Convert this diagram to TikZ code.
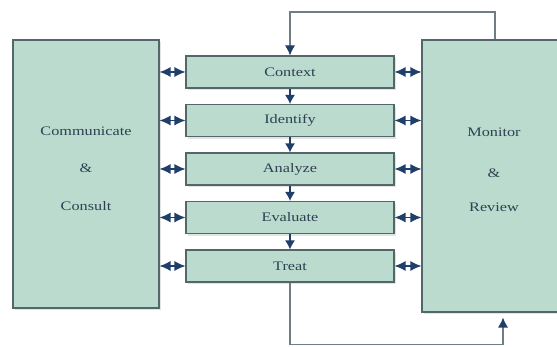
\documentclass[tikz,border=0pt]{standalone}
\usepackage{fontspec}
\setmainfont{Liberation Serif}
\newfontfamily\wfont[FakeStretch=1.25]{Liberation Serif}
\usetikzlibrary{arrows.meta,shadows}
\definecolor{boxfill}{HTML}{BADBCD}
\definecolor{boxline}{HTML}{53676B}
\definecolor{arrnavy}{HTML}{1F3F6B}
\definecolor{txtcol}{HTML}{2F4052}
\definecolor{flowline}{HTML}{6E7E84}
\begin{document}
\begin{tikzpicture}[x=1pt,y=1pt,
  box/.style={draw=boxline, line width=1.1pt, fill=boxfill, inner sep=0pt,
    drop shadow={shadow xshift=1.5pt, shadow yshift=-2.5pt, opacity=0.22, fill=gray}},
  stepbox/.style={box, minimum width=208pt, minimum height=32pt,
    font=\wfont\fontsize{13}{15}\selectfont, text=txtcol},
  lbl/.style={font=\wfont\fontsize{13}{15}\selectfont, text=txtcol, inner sep=0pt},
  dbl/.style={{Latex[length=11pt,width=10pt]}-{Latex[length=11pt,width=10pt]}, color=arrnavy, line width=1.2pt},
  downarr/.style={-{Latex[length=9pt,width=10pt]}, color=arrnavy, line width=1.2pt},
  loopline/.style={draw=flowline, line width=1.1pt, -{Latex[length=10pt,width=10pt,color=arrnavy]}}
]
\useasboundingbox (0,0) rectangle (557,347);
\clip (0,0) rectangle (557,347);
\fill[white] (0,0) rectangle (557,347);

% big side boxes
\node[box, minimum width=146pt, minimum height=268pt] (L) at (86,173) {};
\node[box, minimum width=140pt, minimum height=272pt] (R) at (492,171) {};

% step boxes
\node[stepbox] (ctx) at (290,275) {Context};
\node[stepbox] (idf) at (290,226.5) {Identify};
\node[stepbox] (ana) at (290,178) {Analyze};
\node[stepbox] (eva) at (290,129.5) {Evaluate};
\node[stepbox] (trt) at (290,81) {Treat};

% side labels
\node[lbl] (l1) at (86,216) {Communicate};
\node[lbl] (l2) at (86,179) {\&};
\node[lbl] (l3) at (86,141) {Consult};
\node[lbl] (r1) at (494,215) {Monitor};
\node[lbl] (r2) at (494,174) {\&};
\node[lbl] (r3) at (494,140) {Review};

% double arrows
\foreach \n in {ctx,idf,ana,eva,trt}{
  \draw[dbl] (L.east |- \n.west) -- (\n.west);
  \draw[dbl] (\n.east) -- (R.west |- \n.east);
}

% down arrows
\draw[downarr] (ctx.south) -- (idf.north);
\draw[downarr] (idf.south) -- (ana.north);
\draw[downarr] (ana.south) -- (eva.north);
\draw[downarr] (eva.south) -- (trt.north);

% feedback loops
\coordinate (rt) at (495,335);
\coordinate (rb) at (503,2.5);
\draw[loopline] (R.north -| rt) -- (rt) -| (ctx.north);
\draw[loopline] (trt.south) |- (rb) -- ([yshift=-5pt]R.south -| rb);
\end{tikzpicture}
\end{document}
